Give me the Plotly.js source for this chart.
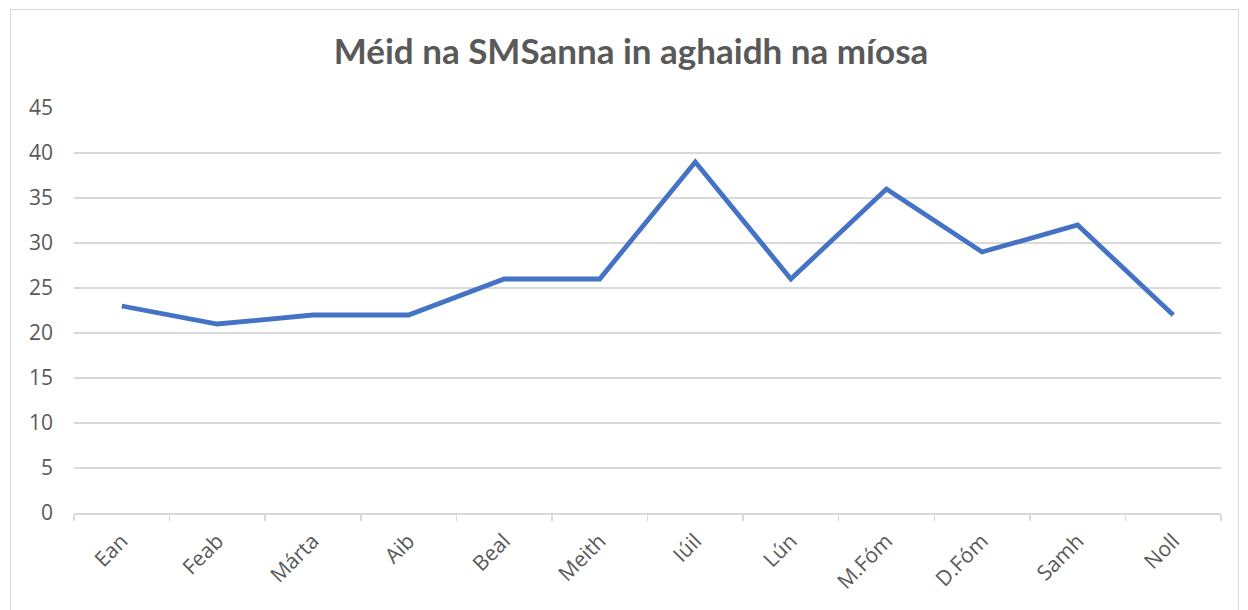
<!DOCTYPE html>
<html>
<head>
<meta charset="utf-8">
<script src="https://cdn.plot.ly/plotly-3.0.1.min.js"></script>
<style>
html,body{margin:0;padding:0;background:#fff;}
#wrap{position:relative;width:1248px;height:610px;overflow:hidden;}
#chart{position:absolute;left:0;top:0;width:1248px;height:610px;}
#frame{position:absolute;left:10px;top:9px;width:1229px;height:620px;border:1px solid #d9d9d9;pointer-events:none;box-sizing:border-box;}
</style>
</head>
<body>
<div id="wrap"><div id="chart"></div><div id="frame"></div></div>
<script>
const months = ["Ean","Feab","Márta","Aib","Beal","Meith","Iúil","Lún","M.Fóm","D.Fóm","Samh","Noll"];
const smsCounts = [23,21,22,22,26,26,39,26,36,29,32,22];
const yTicks = [0,5,10,15,20,25,30,35,40,45];
const chartTitle = "Méid na SMSanna in aghaidh na míosa";

const titleFont = "Lato, 'Open Sans', sans-serif";
const tickFont = "'Open Sans', 'Noto Sans', sans-serif";
Plotly.newPlot("chart", [{
  type: "scatter",
  mode: "lines",
  x: months,
  y: smsCounts,
  line: {color: "#4472C4", width: 4.8, shape: "linear"},
  hoverinfo: "x+y"
}], {
  width: 1248, height: 610,
  margin: {l: 74, r: 27, t: 108, b: 97},
  paper_bgcolor: "#ffffff",
  plot_bgcolor: "#ffffff",
  showlegend: false,
  title: {
    text: "<b>" + chartTitle + "</b>",
    font: {family: titleFont, size: 35, color: "#595959"},
    x: 631/1248, xanchor: "center",
    yref: "container", y: 1 - 52/610, yanchor: "middle"
  },
  xaxis: {
    type: "category",
    tickangle: -45,
    tickson: "boundaries",
    ticks: "outside",
    ticklen: 6,
    tickcolor: "#d9d9d9",
    tickwidth: 1.5,
    showline: true,
    linecolor: "#d9d9d9",
    linewidth: 1.5,
    showgrid: false,
    zeroline: false,
    ticklabelstandoff: 6,
    tickfont: {family: tickFont, size: 21, color: "#595959"},
    range: [-0.5, 11.5]
  },
  yaxis: {
    range: [0, 45],
    tickvals: yTicks,
    ticktext: yTicks.map(String),
    showgrid: true,
    gridcolor: "#d9d9d9",
    gridwidth: 1.5,
    zeroline: false,
    showline: false,
    ticks: "",
    ticklabelstandoff: 20,
    tickfont: {family: tickFont, size: 21, color: "#595959"}
  }
}, {displayModeBar: false, staticPlot: true});
</script>
</body>
</html>
